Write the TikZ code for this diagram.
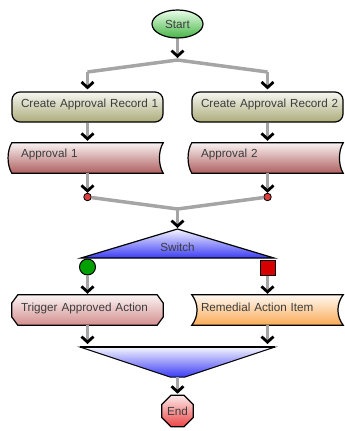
\documentclass[tikz,border=0pt]{standalone}
\usepackage{fontspec}
\setmainfont{Liberation Sans}
\usetikzlibrary{arrows.meta, positioning, calc, shapes.geometric, backgrounds}
\definecolor{linegray}{RGB}{165,165,165}
\definecolor{textgray}{RGB}{60,60,60}
\definecolor{startgreen}{RGB}{70,180,70}
\definecolor{recolive}{RGB}{172,172,122}
\definecolor{appred}{RGB}{175,95,95}
\definecolor{trigpink}{RGB}{212,142,142}
\definecolor{remorange}{RGB}{250,170,85}
\definecolor{swblue}{RGB}{60,60,245}
\definecolor{endred}{RGB}{235,70,70}
\definecolor{okgreen}{RGB}{0,160,0}
\definecolor{badred}{RGB}{215,0,0}
\definecolor{dotred}{RGB}{220,60,60}

\tikzset{
  lbl/.style={font=\fontsize{11.7}{13}\selectfont, text=textgray},
  outline/.style={draw=black, line width=1.2pt},
  boxnode/.style={lbl, minimum height=30pt, text width=145pt, inner xsep=3pt,
    align=left, text height=8.5pt, execute at begin node={\hspace*{6pt}}},
  flow/.style={draw=linegray, line width=3.5pt,
    -{Straight Barb[color=black, length=5.5pt, width=12pt, line width=2.8pt]}},
  link/.style={draw=linegray, line width=3.5pt},
}

\begin{document}
\begin{tikzpicture}[x=1pt, y=-1pt]
  \useasboundingbox (0,0) rectangle (345,431);
  % start
  \node[lbl, ellipse, outline, minimum width=51pt, minimum height=28pt, inner sep=0pt,
    top color=green!8, bottom color=startgreen] (start) at (177.5,24) {Start};
  \coordinate (j1) at (177.5,60);
  \coordinate (j1l) at (87.5,72);
  \coordinate (j1r) at (267.5,72);
  % create records
  \node[boxnode, outline, rounded corners=8pt, text depth=8pt,
    top color=recolive!10, bottom color=recolive] (rec1) at (87.5,107) {Create Approval Record 1};
  \node[boxnode, outline, rounded corners=8pt, text depth=8pt,
    top color=recolive!10, bottom color=recolive] (rec2) at (267.5,107) {Create Approval Record 2};
  % approvals
  \node[boxnode, text depth=10pt] (ap1) at (87.5,158) {Approval 1};
  \node[boxnode, text depth=10pt] (ap2) at (267.5,158) {Approval 2};
  \begin{scope}[on background layer]
    \foreach \a in {ap1,ap2}
      \shade[outline, top color=appred!8, bottom color=appred]
        (\a.north west) .. controls ($(\a.north west)+(-5,8)$) and ($(\a.south west)+(-5,-8)$) .. (\a.south west)
        -- (\a.south east) .. controls ($(\a.south east)+(-5,-8)$) and ($(\a.north east)+(-5,8)$) .. (\a.north east)
        -- cycle;
  \end{scope}
  \node[circle, draw=black, line width=0.8pt, fill=dotred, minimum size=7.5pt, inner sep=0pt] (dot1) at (87.5,197) {};
  \node[circle, draw=black, line width=0.8pt, fill=dotred, minimum size=7.5pt, inner sep=0pt] (dot2) at (267.5,197) {};
  \coordinate (j2) at (177.5,209);
  % switch
  \coordinate (swtop) at (177.5,229);
  \coordinate (swl) at (81,258);
  \coordinate (swr) at (274,258);
  \shade[outline, top color=swblue!5, bottom color=swblue] (swtop) -- (swr) -- (swl) -- cycle;
  \node[lbl] (switch) at (177.5,247) {Switch};
  \node[circle, draw=black, line width=1pt, fill=okgreen, minimum size=16pt, inner sep=0pt] (yes) at (87.5,267) {};
  \node[rectangle, draw=black, line width=1pt, fill=badred, minimum size=15pt, inner sep=0pt] (no) at (267.5,267.5) {};
  % actions
  \node[boxnode, text depth=6pt] (trig) at (87.5,310) {Trigger Approved Action};
  \node[boxnode, text depth=6pt] (rem) at (267.5,310) {Remedial Action Item};
  \begin{scope}[on background layer]
    \shade[outline, top color=trigpink!10, bottom color=trigpink]
      ($(trig.north west)+(6,0)$) -- ($(trig.north east)+(-6,0)$) -- ($(trig.east)+(0,-7)$)
      -- ($(trig.east)+(0,7)$) -- ($(trig.south east)+(-6,0)$) -- ($(trig.south west)+(6,0)$)
      -- ($(trig.west)+(0,7)$) -- ($(trig.west)+(0,-7)$) -- cycle;
    \shade[outline, top color=remorange!8, bottom color=remorange]
      (rem.north west) .. controls ($(rem.north west)+(7,9)$) and ($(rem.south west)+(7,-9)$) .. (rem.south west)
      -- (rem.south east) .. controls ($(rem.south east)+(-7,-9)$) and ($(rem.north east)+(-7,9)$) .. (rem.north east)
      -- cycle;
  \end{scope}
  % merge
  \coordinate (mtl) at (80,347);
  \coordinate (mtr) at (275,347);
  \coordinate (mbl) at (170,377);
  \coordinate (mbr) at (185,377);
  \coordinate (mbot) at (177.5,377);
  \shade[draw=black, line width=1pt, top color=swblue!5, bottom color=swblue] (mtl) -- (mtr) -- (mbr) -- (mbl) -- cycle;
  \draw[line width=2.2pt] (mtl) -- (mtr);
  % end
  \node[lbl, regular polygon, regular polygon sides=8, outline, minimum size=34pt, inner sep=0pt,
    top color=endred!12, bottom color=endred] (end) at (177.5,411) {End};

  % connectors
  \draw[link] (j1l) -- (j1) -- (j1r);
  \draw[link] (dot1) -- (j2) -- (dot2);
  \draw[flow, shorten >=2pt] (start) -- (j1);
  \draw[flow, shorten >=2pt] (j1l) -- (rec1);
  \draw[flow, shorten >=2pt] (j1r) -- (rec2);
  \draw[flow, shorten >=2pt] (rec1) -- (ap1);
  \draw[flow, shorten >=2pt] (rec2) -- (ap2);
  \draw[flow] (ap1) -- (dot1);
  \draw[flow] (ap2) -- (dot2);
  \draw[flow, shorten >=1pt] (j2) -- (swtop);
  \draw[flow, shorten >=1pt] (yes) -- (trig);
  \draw[flow, shorten >=1pt] (no) -- (rem);
  \draw[flow, shorten >=3pt] (trig) -- (trig |- mtl);
  \draw[flow, shorten >=3pt] (rem) -- (rem |- mtr);
  \draw[flow, shorten >=1pt] (mbot) -- (end);
\end{tikzpicture}
\end{document}
